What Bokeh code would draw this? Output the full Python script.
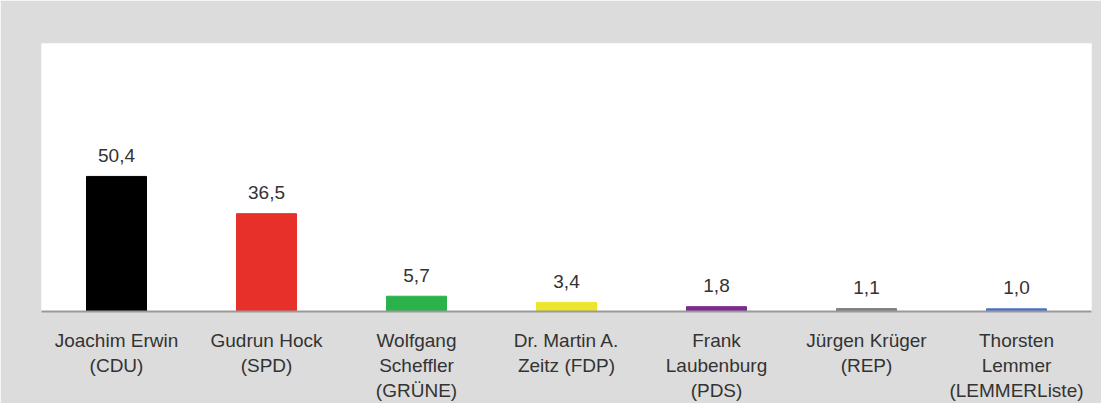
from bokeh.plotting import figure
from bokeh.models import ColumnDataSource, Range1d
from bokeh.embed import file_html
from bokeh.resources import INLINE
from bokeh.core.properties import value

candidates = ["Joachim Erwin\n(CDU)", "Gudrun Hock\n(SPD)", "Wolfgang\nScheffler\n(GRÜNE)",
              "Dr. Martin A.\nZeitz (FDP)", "Frank\nLaubenburg\n(PDS)", "Jürgen Krüger\n(REP)",
              "Thorsten\nLemmer\n(LEMMERListe)"]
shares = [50.4, 36.5, 5.7, 3.4, 1.8, 1.1, 1.0]
share_labels = ["50,4", "36,5", "5,7", "3,4", "1,8", "1,1", "1,0"]
colors = ["#000000", "#e8302a", "#2bb24a", "#ece52c", "#7b2a8e", "#808080", "#4a72c4"]

src = ColumnDataSource(dict(x=candidates, top=shares, label=share_labels, color=colors))

FONT = "Liberation Sans"

p = figure(x_range=candidates, y_range=Range1d(0, 100), width=1101, height=403,
           output_backend="svg", toolbar_location=None, y_axis_location=None,
           min_border_left=41, min_border_right=10, min_border_top=43, min_border_bottom=90)
p.border_fill_color = "#dcdcdc"
p.background_fill_color = "white"
p.outline_line_color = None
p.xgrid.visible = False
p.ygrid.visible = False
p.x_range.range_padding = 0

p.vbar(x="x", top="top", bottom=0, width=0.4, color="color", source=src)
p.text(x="x", y="top", text="label", source=src, y_offset=-21,
       text_align="center", text_baseline="alphabetic",
       text_font=value(FONT), text_font_size="19px", text_color="#333333")

ax = p.xaxis[0]
ax.axis_line_color = "#9a9a9a"
ax.axis_line_width = 2
ax.major_tick_line_color = None
ax.minor_tick_line_color = None
ax.major_tick_out = 0
ax.major_label_standoff = 18
ax.major_label_text_font = FONT
ax.major_label_text_font_size = "19px"
ax.major_label_text_color = "#333333"
ax.major_label_text_line_height = 1.2
ax.major_label_orientation = "horizontal"

open("out.html", "w").write(file_html(p, INLINE))
